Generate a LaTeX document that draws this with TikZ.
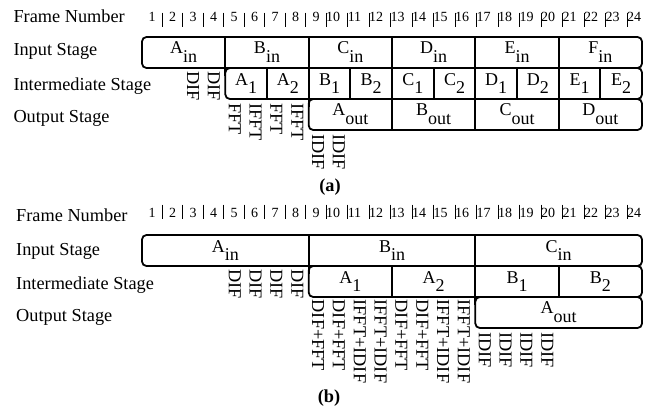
\documentclass[tikz,border=0pt]{standalone}
\usepackage{fontspec}
\setmainfont{Liberation Serif}
\newcommand{\sbx}[2]{#1\raisebox{-8.5pt}{#2}}
\begin{document}
\begin{tikzpicture}[x=1pt,y=-1pt,
  rowbox/.style={line width=1.8pt, rounded corners=4.5pt},
  divider/.style={line width=1.8pt},
  sepbar/.style={line width=0.8pt},
  lbl/.style={font=\fontsize{18.3}{22}\selectfont, inner sep=0pt, anchor=base west},
  cell/.style={font=\fontsize{18}{22}\selectfont, inner sep=0pt, anchor=base},
  vlbl/.style={font=\fontsize{18.3}{22}\selectfont, inner sep=0pt, rotate=-90, anchor=west},
  num/.style={font=\fontsize{14}{16}\selectfont, inner sep=0pt, anchor=base},
  captxt/.style={font=\fontsize{18.3}{22}\selectfont\bfseries, inner sep=0pt, anchor=base}]
\useasboundingbox (0,0) rectangle (656,412);

% ================= (a) =================
\node[lbl] (fa) at (13.3,23) {Frame Number};
\node[lbl] (ia) at (13.3,56) {Input Stage};
\node[lbl] (ma) at (13.3,90) {Intermediate Stage};
\node[lbl] (oa) at (13.3,122.7) {Output Stage};

\foreach \j in {1,...,9} {
  \node[num] (na\j) at ({152+20.5*(\j-1)},21.5) {\j};
}
\foreach \k in {10,...,24} {
  \node[num] (na\k) at ({333+21.5*(\k-10)},21.5) {\k};
}
\foreach \j in {1,...,8} { \draw[sepbar] ({162.3+20.5*(\j-1)},12.7) -- ++(0,14); }
\foreach \k in {9,...,23} { \draw[sepbar] ({326+21.5*(\k-9)},12.7) -- ++(0,14); }

% input row
\draw[rowbox] (142,37) rectangle (642,68);
\foreach \k in {4,8,12,16,20} { \draw[divider] ({142+20.8333*\k},37) -- ({142+20.8333*\k},68); }
\node[cell] (aina) at (183.67,54) {\sbx{A}{in}};
\node[cell] (bina) at (267,54) {\sbx{B}{in}};
\node[cell] (cina) at (350.33,54) {\sbx{C}{in}};
\node[cell] (dina) at (433.67,54) {\sbx{D}{in}};
\node[cell] (eina) at (517,54) {\sbx{E}{in}};
\node[cell] (fina) at (600.33,54) {\sbx{F}{in}};

% intermediate row
\draw[rowbox] (225.33,68) rectangle (642,99);
\draw[divider] (225.33,67) -- (225.33,76);
\foreach \k in {6,8,10,12,14,16,18,20,22} { \draw[divider] ({142+20.8333*\k},68) -- ({142+20.8333*\k},99); }
\node[cell] (a1a) at (246.17,85) {\sbx{A}{1}};
\node[cell] (a2a) at (287.83,85) {\sbx{A}{2}};
\node[cell] (b1a) at (329.5,85) {\sbx{B}{1}};
\node[cell] (b2a) at (371.17,85) {\sbx{B}{2}};
\node[cell] (c1a) at (412.83,85) {\sbx{C}{1}};
\node[cell] (c2a) at (454.5,85) {\sbx{C}{2}};
\node[cell] (d1a) at (496.17,85) {\sbx{D}{1}};
\node[cell] (d2a) at (537.83,85) {\sbx{D}{2}};
\node[cell] (e1a) at (579.5,85) {\sbx{E}{1}};
\node[cell] (e2a) at (621.17,85) {\sbx{E}{2}};

% output row
\draw[rowbox] (308.67,99) rectangle (642,130);
\draw[divider] (308.67,98) -- (308.67,107);
\foreach \k in {12,16,20} { \draw[divider] ({142+20.8333*\k},99) -- ({142+20.8333*\k},130); }
\node[cell] (aouta) at (350.33,115.5) {\sbx{A}{out}};
\node[cell] (bouta) at (433.67,115.5) {\sbx{B}{out}};
\node[cell] (couta) at (517,115.5) {\sbx{C}{out}};
\node[cell] (douta) at (600.33,115.5) {\sbx{D}{out}};

% vertical operation labels
\node[vlbl] (va3) at ({142+20.8333*2.5-1},71) {DIF};
\node[vlbl] (va4) at ({142+20.8333*3.5-1},71) {DIF};
\node[vlbl] (va5) at ({142+20.8333*4.5-1},103) {FFT};
\node[vlbl] (va6) at ({142+20.8333*5.5-1},103) {IFFT};
\node[vlbl] (va7) at ({142+20.8333*6.5-1},103) {FFT};
\node[vlbl] (va8) at ({142+20.8333*7.5-1},103) {IFFT};
\node[vlbl] (va9) at ({142+20.8333*8.5-1},134) {IDIF};
\node[vlbl] (va10) at ({142+20.8333*9.5-1},134) {IDIF};

\node[captxt] (capa) at (330,191) {(a)};

% ================= (b) =================
\node[lbl] (fb) at (16,221.7) {Frame Number};
\node[lbl] (ib) at (16,255) {Input Stage};
\node[lbl] (mb) at (16,289.3) {Intermediate Stage};
\node[lbl] (ob) at (16,321.7) {Output Stage};

\foreach \j in {1,...,9} {
  \node[num] (nb\j) at ({152+20.5*(\j-1)},217.5) {\j};
}
\foreach \k in {10,...,24} {
  \node[num] (nb\k) at ({333+21.5*(\k-10)},217.5) {\k};
}
\foreach \j in {1,...,8} { \draw[sepbar] ({162.3+20.5*(\j-1)},204.5) -- ++(0,14.5); }
\foreach \k in {9,...,23} { \draw[sepbar] ({326+21.5*(\k-9)},204.5) -- ++(0,14.5); }

% input row
\draw[rowbox] (142,235) rectangle (642,266);
\foreach \k in {8,16} { \draw[divider] ({142+20.8333*\k},235) -- ({142+20.8333*\k},266); }
\node[cell] (ainb) at (225.33,252) {\sbx{A}{in}};
\node[cell] (binb) at (392,252) {\sbx{B}{in}};
\node[cell] (cinb) at (558.67,252) {\sbx{C}{in}};

% intermediate row
\draw[rowbox] (308.67,266) rectangle (642,297);
\draw[divider] (308.67,265) -- (308.67,274);
\foreach \k in {12,16,20} { \draw[divider] ({142+20.8333*\k},266) -- ({142+20.8333*\k},297); }
\node[cell] (a1b) at (350.33,283) {\sbx{A}{1}};
\node[cell] (a2b) at (433.67,283) {\sbx{A}{2}};
\node[cell] (b1b) at (517,283) {\sbx{B}{1}};
\node[cell] (b2b) at (600.33,283) {\sbx{B}{2}};

% output row
\draw[rowbox] (475.33,297) rectangle (642,328);
\draw[divider] (475.33,296) -- (475.33,305);
\node[cell] (aoutb) at (558.67,313.5) {\sbx{A}{out}};

% vertical operation labels
\foreach \k in {5,6,7,8} {
  \node[vlbl] (vbd\k) at ({142+20.8333*(\k-0.5)-1},269) {DIF};
}
\foreach \k in {9,10,13,14} {
  \node[vlbl] (vbf\k) at ({142+20.8333*(\k-0.5)-1},299.5) {DIF+FFT};
}
\foreach \k in {11,12,15,16} {
  \node[vlbl] (vbi\k) at ({142+20.8333*(\k-0.5)-1},299.5) {IFFT+IDIF};
}
\foreach \k in {17,18,19,20} {
  \node[vlbl] (vbo\k) at ({142+20.8333*(\k-0.5)-1},332) {IDIF};
}

\node[captxt] (capb) at (329,402.5) {(b)};
\end{tikzpicture}
\end{document}
